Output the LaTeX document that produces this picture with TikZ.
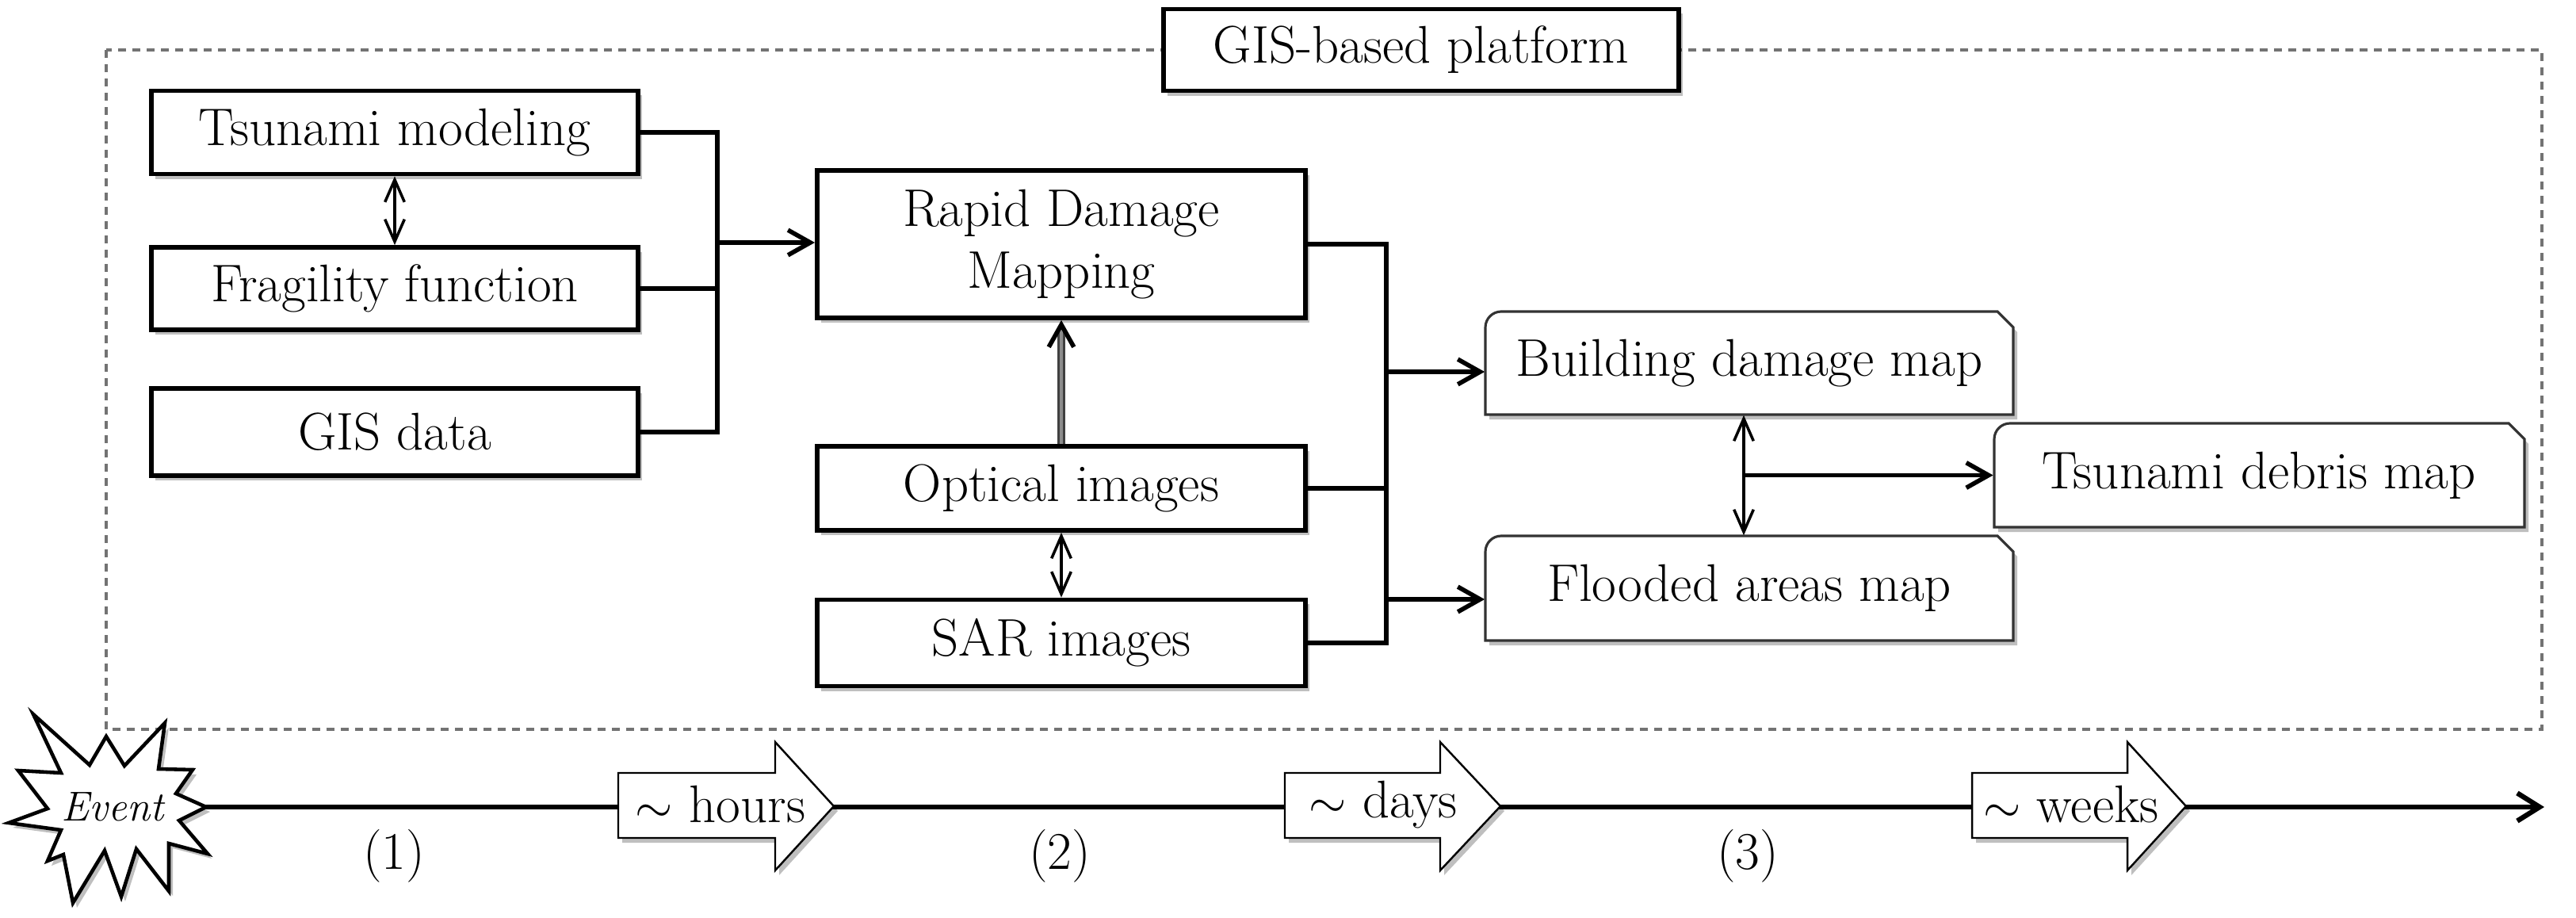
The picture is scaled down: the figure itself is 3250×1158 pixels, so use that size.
\documentclass[tikz,border=0pt]{standalone}
\usetikzlibrary{arrows.meta,shadows,calc}
\begin{document}
\begin{tikzpicture}[x=0.01cm,y=-0.01cm,
  every node/.style={font=\fontsize{19}{22}\selectfont},
  shad/.style={drop shadow={shadow xshift=0.05cm,shadow yshift=-0.06cm,opacity=0.25,fill=black}},
  boxn/.style={draw,line width=1.6pt,fill=white,shad,inner sep=0pt,align=center},
  mapn/.style={inner sep=0pt,align=center},
  mapline/.style={draw=black!80,line width=0.9pt,fill=white,shad},
  conn/.style={line width=1.6pt},
  arr/.style={line width=1.6pt,-{Straight Barb[length=8pt,width=9pt,line width=1.6pt]}},
  darr/.style={line width=1pt,{Straight Barb[length=8pt,width=7pt,line width=1pt]}-{Straight Barb[length=8pt,width=7pt,line width=1pt]}},
  dblarr/.style={draw=black!75,double=black!45,line width=0.8pt,double distance=1.2pt,-{Straight Barb[length=8pt,width=9pt,line width=1.6pt,color=black]}},
  frame/.style={draw=black!55,line width=1.2pt,dash pattern=on 0.1cm off 0.08cm},
  blockarr/.style={draw,line width=0.7pt,fill=white,shad},
  timeline/.style={line width=1.8pt,-{Straight Barb[length=8pt,width=10pt,line width=1.8pt]}}
]
\useasboundingbox (0,0) rectangle (3250,1158);

% platform frame
\draw[frame] (134,63) rectangle (3207,920);
\node[boxn,minimum width=6.5cm,minimum height=1.03cm] (plat) at (1793,63) {GIS-based platform};

% left column
\node[boxn,minimum width=6.14cm,minimum height=1.05cm] (tsu) at (498,167) {Tsunami modeling};
\node[boxn,minimum width=6.14cm,minimum height=1.04cm] (frag) at (498,364) {Fragility function};
\node[boxn,minimum width=6.14cm,minimum height=1.10cm] (gis) at (498,545) {GIS data};

% middle column
\node[boxn,minimum width=6.16cm,minimum height=1.86cm] (rdm) at (1339,308) {Rapid Damage\\Mapping};
\node[boxn,minimum width=6.16cm,minimum height=1.06cm] (opt) at (1339,616) {Optical images};
\node[boxn,minimum width=6.16cm,minimum height=1.09cm] (sar) at (1339,811) {SAR images};

% map boxes (outline: rounded top-left, cut top-right)
\foreach \xa/\ya/\xb/\yb in {1874/393/2540/523, 1874/676/2540/808, 2516/534/3185/665}{
  \draw[mapline] (\xa,\yb) -- (\xa,\ya+20) arc[start angle=180,end angle=90,radius=0.2cm]
    -- (\xb-20,\ya) -- (\xb,\ya+20) -- (\xb,\yb) -- cycle;
}
\node[mapn,minimum width=6.66cm,minimum height=1.30cm] (bdm) at (2207,458) {Building damage map};
\node[mapn,minimum width=6.66cm,minimum height=1.32cm] (fam) at (2207,742) {Flooded areas map};
\node[mapn,minimum width=6.69cm,minimum height=1.31cm] (tdm) at (2850,600) {Tsunami debris map};

% connectors left
\coordinate (b1) at (905,306);
\draw[conn] (tsu.east) -| (b1);
\draw[conn] (frag.east) -| (b1);
\draw[conn] (gis.east) -| (b1);
\draw[arr] (b1) -- (b1 -| rdm.west);
\draw[darr] (tsu.south) -- (frag.north);

% connectors middle
\coordinate (b2) at (1749,469);
\coordinate (b3) at (1749,756);
\draw[conn] (rdm.east) -- (rdm.east -| b2) -- (sar.east -| b2) -- (sar.east);
\draw[conn] (opt.east) -- (opt.east -| b2);
\draw[arr] (b2) -- (b2 -| bdm.west);
\draw[arr] (b3) -- (b3 -| fam.west);
\draw[dblarr] (opt.north) -- (rdm.south);
\draw[darr] (opt.south) -- (sar.north);

% connectors right
\coordinate (bb) at ([xshift=-0.07cm]bdm.south);
\coordinate (ff) at ([xshift=-0.07cm]fam.north);
\draw[darr] (bb) -- (ff);
\coordinate (mid) at ($(bb)!0.5!(ff)$);
\draw[arr] (mid) -- (mid -| tdm.west);

% timeline
\coordinate (evc) at (140,1018);
\coordinate (tend) at (3210,1018);
\draw[timeline] (evc) -- (tend);

\draw[line width=1.3pt,fill=white,shad,line join=miter,miter limit=20]
 (42,901) -- (113,965) -- (134,929) -- (157,966) -- (208,912) -- (200,970) -- (243,971)
 -- (222,1001) -- (260,1018) -- (226,1035) -- (262,1077) -- (213,1064) -- (213,1124)
 -- (172,1071) -- (153,1131) -- (132,1073) -- (92,1139) -- (80,1078) -- (60,1086)
 -- (77,1047) -- (11,1038) -- (60,1020) -- (23,972) -- (77,975) -- cycle;
\node[font=\itshape\fontsize{15}{18}\selectfont] (ev) at (142,1018) {Event};

\foreach \a/\b/\c in {780/978/1052, 1621/1817/1893, 2488/2684/2758}{
  \draw[blockarr] (\a,975) -- (\b,975) -- (\b,936) -- (\c,1017) -- (\b,1098) -- (\b,1057) -- (\a,1057) -- cycle;
}
\node (hrs) at (909,1015) {$\sim$ hours};
\node (dys) at (1745,1015) {$\sim$ days};
\node (wks) at (2613,1015) {$\sim$ weeks};

\node (p1) at (497,1080) {(1)};
\node (p2) at (1337,1080) {(2)};
\node (p3) at (2205,1080) {(3)};
\end{tikzpicture}
\end{document}
